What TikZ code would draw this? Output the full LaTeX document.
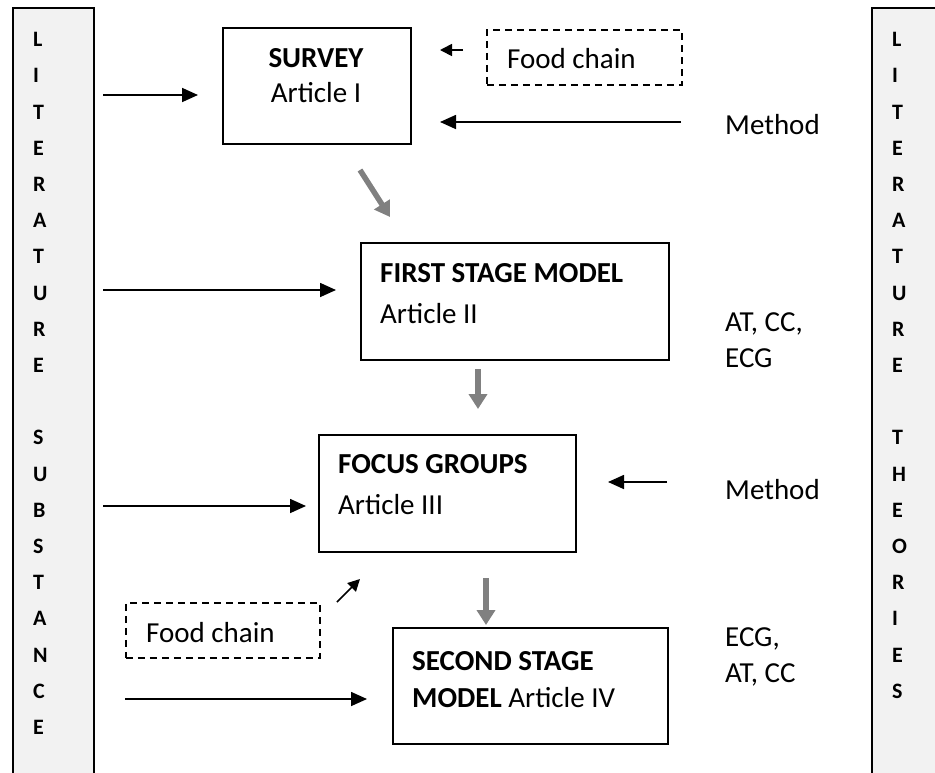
\documentclass[tikz,border=0pt]{standalone}
\usepackage{fontspec}
\setmainfont{Carlito}
\usetikzlibrary{arrows.meta}
\definecolor{barfill}{HTML}{F2F2F2}
\definecolor{arrgray}{HTML}{808080}
\begin{document}
\begin{tikzpicture}[x=1pt,y=-1pt,
  box/.style={draw=black,line width=1.8pt,inner sep=0pt,rectangle},
  dbox/.style={draw=black,line width=1.6pt,dash pattern=on 7pt off 5pt,inner sep=0pt,rectangle},
  txt/.style={inner sep=0pt,anchor=base west,font=\fontsize{29}{36}\selectfont},
  btxt/.style={inner sep=0pt,anchor=base west,font=\fontsize{29}{36}\selectfont\bfseries},
  ctxt/.style={inner sep=0pt,anchor=base,font=\fontsize{29}{36}\selectfont},
  cbtxt/.style={inner sep=0pt,anchor=base,font=\fontsize{29}{36}\selectfont\bfseries},
  bar/.style={draw=black,line width=1.8pt,fill=barfill,inner sep=0pt,rectangle},
  barletter/.style={inner sep=0pt,anchor=base west,font=\fontsize{22}{26}\selectfont\bfseries},
  arr/.style={line width=1.7pt,-{Triangle[length=16pt,width=14pt]}},
  sarr/.style={line width=1.7pt,-{Triangle[length=12pt,width=12pt]}},
  garr/.style={draw=arrgray,line width=5.5pt,-{Triangle[length=15pt,width=18pt]}}]

\useasboundingbox (0,0) rectangle (935,772);

% side bars
\begin{scope}
\clip (0,0) rectangle (935,772);
\node[bar,minimum width=81pt,minimum height=790pt,anchor=north west] (leftbar) at (12,7) {};
\node[bar,minimum width=81pt,minimum height=790pt,anchor=north west] (rightbar) at (871,7) {};
\end{scope}

\foreach \ch/\i in {L/0,I/1,T/2,E/3,R/4,A/5,T/6,U/7,R/8,E/9,S/11,U/12,B/13,S/14,T/15,A/16,N/17,C/18,E/19}
  \node[barletter] (ll\i) at (33,46.6+36.2*\i) {\ch};
\foreach \ch/\i in {L/0,I/1,T/2,E/3,R/4,A/5,T/6,U/7,R/8,E/9,T/11,H/12,E/13,O/14,R/15,I/16,E/17,S/18}
  \node[barletter] (rl\i) at (892,46.6+36.2*\i) {\ch};

% boxes
\node[box,minimum width=188pt,minimum height=116pt,anchor=north west] (survey) at (222,27) {};
\node[cbtxt] (surveyt) at (316,67) {SURVEY};
\node[ctxt] (surveya) at (316,102) {Article I};

\node[dbox,minimum width=195pt,minimum height=55pt,anchor=north west] (food1) at (486,29) {};
\node[txt] (food1t) at (507,68) {Food chain};

\node[box,minimum width=308pt,minimum height=117pt,anchor=north west] (first) at (360,242) {};
\node[btxt] (firstt) at (380,282) {FIRST STAGE MODEL};
\node[txt] (firsta) at (380,323) {Article II};

\node[box,minimum width=257pt,minimum height=117pt,anchor=north west] (focus) at (318,434) {};
\node[btxt] (focust) at (338,473) {FOCUS GROUPS};
\node[txt] (focusa) at (338,514) {Article III};

\node[dbox,minimum width=194pt,minimum height=55pt,anchor=north west] (food2) at (125,602) {};
\node[txt] (food2t) at (146,642) {Food chain};

\node[box,minimum width=275pt,minimum height=116pt,anchor=north west] (second) at (392,627) {};
\node[btxt] (secondt) at (412,670) {SECOND STAGE};
\node[txt] (seconda) at (412,707) {\textbf{MODEL} Article IV};

% right side labels
\node[txt] (method1) at (725,134) {Method};
\node[txt] (atcc1) at (725,331) {AT, CC,};
\node[txt] (ecg1) at (725,367) {ECG};
\node[txt] (method2) at (725,499) {Method};
\node[txt] (ecg2) at (725,646) {ECG,};
\node[txt] (atcc2) at (725,682) {AT, CC};

% connector ends
\coordinate (l1s) at (103,95);  \coordinate (l1e) at (198,95);
\coordinate (l2s) at (103,290); \coordinate (l2e) at (336,290);
\coordinate (l3s) at (103,506); \coordinate (l3e) at (306,506);
\coordinate (l4s) at (125,699); \coordinate (l4e) at (367,699);
\coordinate (fc1s) at (463,50); \coordinate (fc1e) at (440,50);
\coordinate (m1s) at (681,122); \coordinate (m1e) at (440,122);
\coordinate (m2s) at (667,482); \coordinate (m2e) at (608,482);
\coordinate (fc2s) at (337,602); \coordinate (fc2e) at (360,579);
\coordinate (g1s) at (360,170); \coordinate (g1e) at (390,217);
\coordinate (g2s) at (478,369); \coordinate (g2e) at (478,409);
\coordinate (g3s) at (486,578); \coordinate (g3e) at (486,625);

\draw[arr] (l1s) -- (l1e);
\draw[arr] (l2s) -- (l2e);
\draw[arr] (l3s) -- (l3e);
\draw[arr] (l4s) -- (l4e);
\draw[sarr] (fc1s) -- (fc1e);
\draw[arr] (m1s) -- (m1e);
\draw[arr] (m2s) -- (m2e);
\draw[sarr] (fc2s) -- (fc2e);
\draw[garr] (g1s) -- (g1e);
\draw[garr] (g2s) -- (g2e);
\draw[garr] (g3s) -- (g3e);
\end{tikzpicture}
\end{document}
